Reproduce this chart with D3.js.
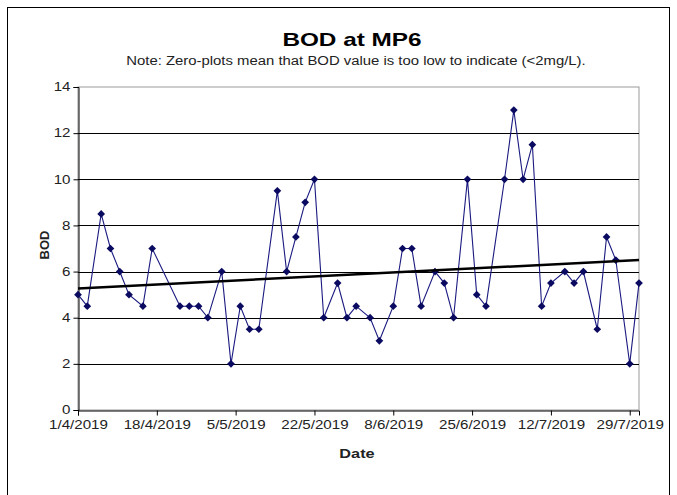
<!DOCTYPE html>
<html><head><meta charset="utf-8">
<script src="https://cdn.jsdelivr.net/npm/d3@7"></script>
<style>
html,body{margin:0;padding:0;background:#fff;}
svg{display:block;font-family:"Liberation Sans",Arial,sans-serif;}
</style></head>
<body><svg id="c" width="677" height="495"></svg>
<script>
const dates = ["1/4/2019","3/4/2019","6/4/2019","8/4/2019","10/4/2019","12/4/2019","15/4/2019","17/4/2019",
"23/4/2019","25/4/2019","27/4/2019","29/4/2019","2/5/2019","4/5/2019","6/5/2019","8/5/2019","10/5/2019",
"14/5/2019","16/5/2019","18/5/2019","20/5/2019","22/5/2019","24/5/2019","27/5/2019","29/5/2019","31/5/2019",
"3/6/2019","5/6/2019","8/6/2019","10/6/2019","12/6/2019","14/6/2019","17/6/2019","19/6/2019","21/6/2019",
"24/6/2019","26/6/2019","28/6/2019","2/7/2019","4/7/2019","6/7/2019","8/7/2019","10/7/2019","12/7/2019",
"15/7/2019","17/7/2019","19/7/2019","22/7/2019","24/7/2019","26/7/2019","29/7/2019","31/7/2019"];
const bod = [5,4.5,8.5,7,6,5,4.5,7,
4.5,4.5,4.5,4,6,2,4.5,3.5,3.5,
9.5,6,7.5,9,10,4,5.5,4,4.5,
4,3,4.5,7,7,4.5,6,5.5,4,
10,5,4.5,10,13,10,11.5,4.5,5.5,
6,5.5,6,3.5,7.5,6.5,2,5.5];
const xTickLabels = ["1/4/2019","18/4/2019","5/5/2019","22/5/2019","8/6/2019","25/6/2019","12/7/2019","29/7/2019"];
const yTicks = [0,2,4,6,8,10,12,14];
const xDomain = ["1/4/2019","31/7/2019"];
const title = "BOD at MP6";
const subtitle = "Note: Zero-plots mean that BOD value is too low to indicate (<2mg/L).";

const parse = s => { const [d,m,y] = s.split("/").map(Number); return new Date(Date.UTC(y,m-1,d)); };
const data = dates.map((d,i)=>({date:parse(d), v:bod[i]}));

const svg = d3.select("#c");
const L=78, R=639, T=87, B=410;
const STRETCH = 1.26;
const x = d3.scaleUtc().domain(xDomain.map(parse)).range([L,R]);
const y = d3.scaleLinear().domain([0,14]).range([B,T]);

function stretch(sel, k){
  sel.each(function(){
    const w = this.getComputedTextLength();
    this.setAttribute("textLength", w*k);
    this.setAttribute("lengthAdjust","spacingAndGlyphs");
  });
}

// outer border
svg.append("rect").attr("x",7.5).attr("y",7.5).attr("width",662).attr("height",500)
  .attr("fill","none").attr("stroke","#000").attr("stroke-width",1);

// plot area border (gray)
svg.append("rect").attr("x",L).attr("y",T).attr("width",R-L).attr("height",B-T)
  .attr("fill","none").attr("stroke","#9a9a9a").attr("stroke-width",1);

// gridlines
svg.append("g").selectAll("line").data(yTicks.filter(t=>t>0 && t<14)).join("line")
  .attr("x1",L).attr("x2",R).attr("y1",d=>Math.round(y(d))+0.5).attr("y2",d=>Math.round(y(d))+0.5)
  .attr("stroke","#000").attr("stroke-width",1);

// y axis
const yAxis = d3.axisLeft(y).tickValues(yTicks).tickSize(5).tickPadding(3);
const gy = svg.append("g").attr("transform",`translate(${L+0.5},0)`).call(yAxis);
gy.select(".domain").attr("stroke","#000");
gy.selectAll("text").attr("font-size",12).attr("fill","#222").attr("font-family","Liberation Sans, Arial, sans-serif").call(stretch, STRETCH);

// x axis
const xAxis = d3.axisBottom(x).tickValues(xTickLabels.map(parse)).tickFormat((d,i)=>xTickLabels[i]).tickSize(5).tickPadding(5);
const gx = svg.append("g").attr("transform",`translate(0,${B+0.5})`).call(xAxis);
gx.select(".domain").attr("stroke","#000");
gx.selectAll("text").attr("font-size",12).attr("fill","#222").attr("font-family","Liberation Sans, Arial, sans-serif").call(stretch, STRETCH);

// series line
svg.append("path").datum(data)
  .attr("d", d3.line().x(d=>x(d.date)).y(d=>y(d.v)))
  .attr("fill","none").attr("stroke","#1a1a80").attr("stroke-width",1.1);

// markers
svg.append("g").selectAll("path").data(data).join("path")
  .attr("transform",d=>`translate(${x(d.date)},${y(d.v)})`)
  .attr("d", d3.symbol().type(d3.symbolDiamond2).size(38))
  .attr("fill","#0a0a60");

// linear trendline (least squares)
const xs = data.map(d=>+d.date), ys = data.map(d=>d.v);
const mx = d3.mean(xs), my = d3.mean(ys);
const slope = d3.sum(xs.map((xv,i)=>(xv-mx)*(ys[i]-my))) / d3.sum(xs.map(xv=>(xv-mx)**2));
const icpt = my - slope*mx;
const dx = xDomain.map(parse);
svg.append("line")
  .attr("x1",x(dx[0])).attr("y1",y(icpt+slope*(+dx[0])))
  .attr("x2",x(dx[1])).attr("y2",y(icpt+slope*(+dx[1])))
  .attr("stroke","#000").attr("stroke-width",2.5);

// titles
svg.append("text").attr("x",352).attr("y",46).attr("text-anchor","middle")
  .attr("font-size",19).attr("font-weight","bold").text(title).call(stretch, 1.28);
svg.append("text").attr("x",356).attr("y",65).attr("text-anchor","middle")
  .attr("font-size",12).attr("fill","#222").text(subtitle).call(stretch, 1.24);
svg.append("text").attr("transform","translate(49,245) rotate(-90)").attr("text-anchor","middle")
  .attr("font-size",13).attr("font-weight","bold").attr("fill","#222").text("BOD").call(stretch, 1.0);
svg.append("text").attr("x",357).attr("y",458).attr("text-anchor","middle")
  .attr("font-size",13).attr("font-weight","bold").attr("fill","#222").text("Date").call(stretch, 1.25);
</script></body></html>
